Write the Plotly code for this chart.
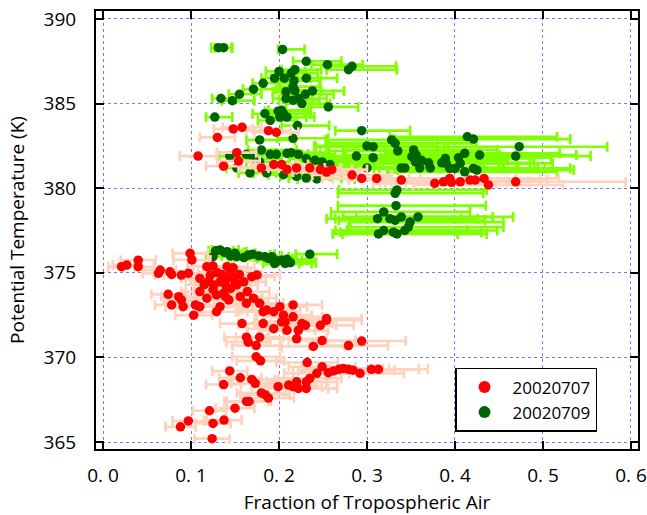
import plotly.graph_objects as go

# ---------------- data ----------------
# 20020707 (red points, peach error bars)
red_x = [0.148, 0.158, 0.130, 0.188, 0.197, 0.108, 0.152, 0.154, 0.137, 0.180,
         0.194, 0.203, 0.209, 0.220, 0.235, 0.247, 0.254, 0.260, 0.283, 0.294,
         0.311, 0.339, 0.377, 0.387, 0.394, 0.396, 0.406, 0.417, 0.423, 0.433,
         0.438, 0.469,
         0.021, 0.027, 0.040, 0.040, 0.063, 0.065, 0.076, 0.078, 0.089, 0.097,
         0.099, 0.101, 0.074, 0.086, 0.089, 0.078, 0.091, 0.105, 0.103, 0.110,
         0.118, 0.122, 0.126, 0.133, 0.141, 0.148, 0.145, 0.152, 0.129, 0.139,
         0.110, 0.118, 0.110, 0.129, 0.133, 0.156, 0.164, 0.169, 0.175, 0.160,
         0.163, 0.171, 0.178, 0.182, 0.186, 0.194, 0.201, 0.205, 0.207, 0.216,
         0.216, 0.158, 0.182, 0.115, 0.125, 0.135, 0.140, 0.145, 0.130, 0.120,
         0.150, 0.137, 0.143, 0.125, 0.155, 0.141, 0.148,
         0.194, 0.203, 0.209, 0.222, 0.226, 0.230, 0.247, 0.254, 0.163, 0.165,
         0.178, 0.174, 0.220, 0.239, 0.249, 0.279, 0.294, 0.254, 0.174, 0.179,
         0.232, 0.249, 0.256, 0.243, 0.235, 0.231, 0.220, 0.216, 0.222, 0.231,
         0.199, 0.211, 0.273, 0.279, 0.284, 0.292, 0.305, 0.313, 0.144, 0.156,
         0.137, 0.169, 0.173, 0.180, 0.184, 0.188, 0.163, 0.166, 0.150, 0.121,
         0.1375, 0.125, 0.097, 0.088, 0.124, 0.262, 0.268]
red_y = [383.5, 383.6, 383.0, 383.4, 383.3, 381.9, 382.1, 381.6, 381.3, 381.2,
         381.4, 381.4, 381.1, 381.2, 381.2, 381.1, 380.95, 381.1, 380.78, 380.58,
         380.58, 380.48, 380.29, 380.38, 380.58, 380.35, 380.38, 380.48, 380.48, 380.58,
         380.19, 380.38,
         375.36, 375.46, 375.75, 375.36, 374.97, 375.16, 375.06, 374.9, 374.87, 374.97,
         376.15, 375.76, 373.73, 373.59, 373.4, 373.1, 373.0, 373.1, 372.5, 374.67,
         375.36, 374.87, 374.28, 374.47, 374.67, 374.77, 374.08, 374.28, 373.69, 373.59,
         373.89, 373.5, 373.0, 372.7, 373.0, 373.59, 373.89, 374.77, 374.87, 374.47,
         373.2, 373.5, 373.2, 372.7, 372.8, 372.7, 373.0, 372.5, 372.1, 372.4,
         373.1, 372.0, 372.0, 374.3, 374.0, 374.9, 374.2, 375.1, 375.0, 374.5,
         374.5, 373.8, 373.4, 375.4, 374.9, 375.36, 375.3,
         371.7, 372.1, 371.6, 371.6, 372.0, 371.9, 371.9, 372.2, 371.2, 370.9,
         371.2, 370.7, 371.1, 370.65, 371.0, 370.7, 370.97, 372.3, 370.04, 369.8,
         369.7, 369.45, 369.1, 369.06, 368.76, 368.56, 368.56, 368.27, 368.17, 368.17,
         368.27, 368.37, 369.35, 369.3, 369.25, 369.06, 369.3, 369.3, 369.2, 368.8,
         368.4, 368.7, 368.47, 367.9, 367.8, 367.6, 367.4, 367.4, 367.0, 366.85,
         366.3, 366.1, 366.25, 365.9, 365.2, 369.2, 369.3]
red_err = [0.022, 0.022, 0.020, 0.025, 0.025, 0.021, 0.022, 0.024, 0.020, 0.026,
           0.026, 0.030, 0.030, 0.032, 0.035, 0.036, 0.038, 0.040, 0.045, 0.045,
           0.050, 0.060, 0.070, 0.072, 0.075, 0.075, 0.078, 0.080, 0.082, 0.085,
           0.085, 0.125,
           0.015, 0.016, 0.020, 0.018, 0.018, 0.018, 0.019, 0.019, 0.020, 0.020,
           0.020, 0.021, 0.019, 0.020, 0.020, 0.019, 0.020, 0.021, 0.021, 0.021,
           0.022, 0.022, 0.022, 0.022, 0.023, 0.023, 0.023, 0.024, 0.022, 0.023,
           0.021, 0.022, 0.021, 0.022, 0.022, 0.025, 0.025, 0.026, 0.026, 0.025,
           0.025, 0.026, 0.027, 0.028, 0.028, 0.030, 0.031, 0.032, 0.032, 0.033,
           0.033, 0.025, 0.028, 0.021, 0.022, 0.022, 0.023, 0.023, 0.022, 0.021,
           0.024, 0.022, 0.023, 0.022, 0.025, 0.023, 0.024,
           0.030, 0.031, 0.032, 0.034, 0.035, 0.035, 0.038, 0.040, 0.025, 0.025,
           0.027, 0.027, 0.034, 0.036, 0.038, 0.045, 0.050, 0.040, 0.027, 0.027,
           0.035, 0.038, 0.040, 0.037, 0.036, 0.035, 0.034, 0.033, 0.034, 0.035,
           0.030, 0.032, 0.045, 0.046, 0.047, 0.050, 0.054, 0.056, 0.020, 0.024,
           0.020, 0.026, 0.027, 0.028, 0.028, 0.029, 0.025, 0.025, 0.022, 0.019,
           0.020, 0.020, 0.018, 0.017, 0.020, 0.040, 0.042]

# 20020709 (dark green points, lime error bars, asymmetric)
green_x = [0.131, 0.137, 0.204, 0.231, 0.255, 0.279, 0.283, 0.200, 0.214, 0.218,
           0.195, 0.206, 0.231, 0.217, 0.182, 0.171, 0.216, 0.218, 0.208, 0.238,
           0.155, 0.230, 0.147, 0.134, 0.208, 0.216, 0.222, 0.226, 0.256, 0.127,
           0.184, 0.190, 0.199, 0.203, 0.205, 0.201, 0.209, 0.221, 0.294, 0.414,
           0.421, 0.473, 0.469, 0.300, 0.307, 0.328, 0.332, 0.335, 0.288, 0.307,
           0.353, 0.356, 0.351, 0.355, 0.362, 0.360, 0.370, 0.372, 0.343, 0.339,
           0.389, 0.390, 0.394, 0.404, 0.406, 0.411, 0.400, 0.411, 0.421, 0.425,
           0.428, 0.385,
           0.332, 0.334, 0.333, 0.319, 0.326, 0.332, 0.339, 0.349, 0.358, 0.312,
           0.313, 0.319, 0.330, 0.334, 0.343, 0.347,
           0.178, 0.180, 0.216, 0.144, 0.163, 0.152, 0.171, 0.178, 0.190, 0.197,
           0.209, 0.214, 0.222, 0.231, 0.241, 0.249, 0.258, 0.167, 0.186, 0.205,
           0.220, 0.231, 0.243, 0.300,
           0.125, 0.133, 0.141, 0.150, 0.152, 0.165, 0.177, 0.184, 0.192, 0.195,
           0.203, 0.209, 0.235, 0.207, 0.128, 0.138, 0.145, 0.160, 0.170, 0.188,
           0.198, 0.213]
green_y = [388.3, 388.3, 388.2, 387.5, 387.3, 387.0, 387.2, 386.9, 386.8, 387.0,
           386.5, 386.5, 386.5, 386.35, 386.2, 385.85, 386.0, 385.76, 385.7, 385.75,
           385.55, 385.55, 385.17, 385.3, 385.3, 385.2, 385.3, 385.0, 384.8, 384.2,
           384.4, 384.0, 384.55, 384.6, 384.4, 384.2, 384.2, 383.7, 383.4, 383.04,
           382.9, 382.45, 381.9, 382.5, 382.45, 382.85, 382.65, 382.2, 381.9, 381.8,
           382.26, 381.96, 381.86, 381.56, 381.65, 381.2, 381.5, 381.2, 381.2, 381.2,
           381.76, 381.47, 381.17, 381.8, 381.47, 382.06, 381.17, 380.97, 381.17, 381.07,
           381.96, 381.5,
           379.7, 379.9, 378.97, 378.6, 378.2, 378.1, 378.3, 378.0, 378.3, 378.2,
           377.3, 377.5, 377.4, 377.3, 377.5, 377.7,
           382.85, 382.25, 382.95, 381.9, 382.0, 381.2, 381.75, 381.55, 382.0, 382.0,
           382.06, 382.1, 382.0, 381.75, 381.65, 381.55, 381.4, 380.9, 380.9, 380.8,
           380.7, 380.6, 380.55, 381.2,
           375.95, 376.35, 376.25, 376.15, 375.95, 376.05, 376.0, 375.95, 375.95, 375.55,
           375.75, 375.8, 376.1, 375.55, 376.3, 376.2, 376.0, 375.9, 376.1, 375.85,
           375.7, 375.6]
green_err_minus = [0.008, 0.010, 0.005, 0.015, 0.018, 0.025, 0.025, 0.015, 0.015, 0.015,
                   0.015, 0.015, 0.018, 0.016, 0.012, 0.012, 0.016, 0.016, 0.015, 0.018,
                   0.012, 0.018, 0.012, 0.010, 0.015, 0.016, 0.017, 0.018, 0.020, 0.010,
                   0.014, 0.014, 0.015, 0.015, 0.016, 0.015, 0.016, 0.018, 0.030, 0.088,
                   0.090, 0.085, 0.080, 0.060, 0.065, 0.075, 0.078, 0.078, 0.055, 0.060,
                   0.080, 0.080, 0.078, 0.080, 0.082, 0.080, 0.085, 0.085, 0.075, 0.074,
                   0.085, 0.086, 0.086, 0.088, 0.088, 0.090, 0.086, 0.088, 0.090, 0.090,
                   0.090, 0.085,
                   0.065, 0.066, 0.066, 0.060, 0.062, 0.064, 0.066, 0.068, 0.070, 0.058,
                   0.052, 0.055, 0.060, 0.062, 0.066, 0.068,
                   0.015, 0.015, 0.018, 0.012, 0.013, 0.012, 0.014, 0.015, 0.016, 0.016,
                   0.018, 0.018, 0.019, 0.020, 0.022, 0.024, 0.026, 0.013, 0.015, 0.017,
                   0.018, 0.020, 0.022, 0.060,
                   0.008, 0.009, 0.010, 0.010, 0.010, 0.011, 0.012, 0.012, 0.013, 0.013,
                   0.014, 0.014, 0.016, 0.014, 0.008, 0.009, 0.010, 0.011, 0.012, 0.013,
                   0.013, 0.014]
green_err_plus = [0.015, 0.010, 0.025, 0.040, 0.040, 0.055, 0.050, 0.030, 0.030, 0.030,
                  0.026, 0.030, 0.035, 0.030, 0.030, 0.026, 0.030, 0.030, 0.030, 0.036,
                  0.025, 0.032, 0.025, 0.020, 0.030, 0.030, 0.032, 0.032, 0.034, 0.020,
                  0.030, 0.030, 0.030, 0.030, 0.031, 0.030, 0.031, 0.036, 0.055, 0.102,
                  0.110, 0.100, 0.085, 0.080, 0.085, 0.090, 0.092, 0.092, 0.070, 0.080,
                  0.095, 0.095, 0.092, 0.095, 0.098, 0.095, 0.100, 0.100, 0.090, 0.090,
                  0.100, 0.100, 0.100, 0.105, 0.105, 0.108, 0.102, 0.105, 0.110, 0.110,
                  0.110, 0.100,
                  0.100, 0.102, 0.102, 0.098, 0.100, 0.102, 0.104, 0.106, 0.108, 0.095,
                  0.090, 0.095, 0.100, 0.102, 0.105, 0.108,
                  0.040, 0.040, 0.040, 0.030, 0.032, 0.030, 0.032, 0.034, 0.036, 0.036,
                  0.038, 0.040, 0.042, 0.045, 0.048, 0.050, 0.052, 0.030, 0.033, 0.036,
                  0.038, 0.040, 0.043, 0.080,
                  0.020, 0.021, 0.022, 0.023, 0.023, 0.025, 0.026, 0.027, 0.028, 0.028,
                  0.029, 0.030, 0.031, 0.030, 0.020, 0.022, 0.023, 0.024, 0.025, 0.027,
                  0.028, 0.029]

x_tickvals = [0.0, 0.1, 0.2, 0.3, 0.4, 0.5, 0.6]
x_ticktext = ["0. 0", "0. 1", "0. 2", "0. 3", "0. 4", "0. 5", "0. 6"]
y_tickvals = [365, 370, 375, 380, 385, 390]

FONT = "Open Sans"

fig = go.Figure()
fig.add_trace(go.Scatter(
    x=green_x, y=green_y, mode="markers", name="20020709",
    marker=dict(color="#006400", size=9.5, line=dict(width=0)),
    error_x=dict(type="data", symmetric=False, array=green_err_plus,
                 arrayminus=green_err_minus, color="#80FF00",
                 thickness=2.7, width=5),
))
fig.add_trace(go.Scatter(
    x=red_x, y=red_y, mode="markers", name="20020707",
    marker=dict(color="#FF0000", size=9.5, line=dict(width=0)),
    error_x=dict(type="data", array=red_err, color="#FFD2BE",
                 thickness=2.7, width=5),
))

axis_common = dict(
    showline=True, linecolor="black", linewidth=2, mirror="ticks",
    ticks="inside", ticklen=8, tickwidth=2, tickcolor="black",
    showgrid=True, gridcolor="#7878FF", gridwidth=1, griddash="dot",
    zeroline=False, automargin=False,
    tickfont=dict(family=FONT, size=19, color="black"),
)

fig.update_layout(
    width=647, height=515,
    margin=dict(l=96, r=9, t=11, b=66),
    paper_bgcolor="white", plot_bgcolor="white",
    font=dict(family=FONT, size=19, color="black"),
    showlegend=True,
    legend=dict(
        x=0.6624, y=0.185, xanchor="left", yanchor="top",
        bgcolor="white", bordercolor="black", borderwidth=1.5,
        font=dict(family=FONT, size=17, color="black"),
        traceorder="reversed", itemsizing="constant",
        itemwidth=46,
    ),
    xaxis=dict(range=[-0.008, 0.608], tickvals=x_tickvals, ticktext=x_ticktext,
               ticklabelstandoff=8,
               title=dict(text="Fraction of Tropospheric Air", standoff=24,
                          font=dict(family=FONT, size=19)),
               **axis_common),
    yaxis=dict(range=[364.59, 390.47], tickvals=y_tickvals,
               ticklabelstandoff=14,
               title=dict(text="Potential Temperature (K)", standoff=14,
                          font=dict(family=FONT, size=19)),
               **axis_common),
)

fig.write_html("out.html")
